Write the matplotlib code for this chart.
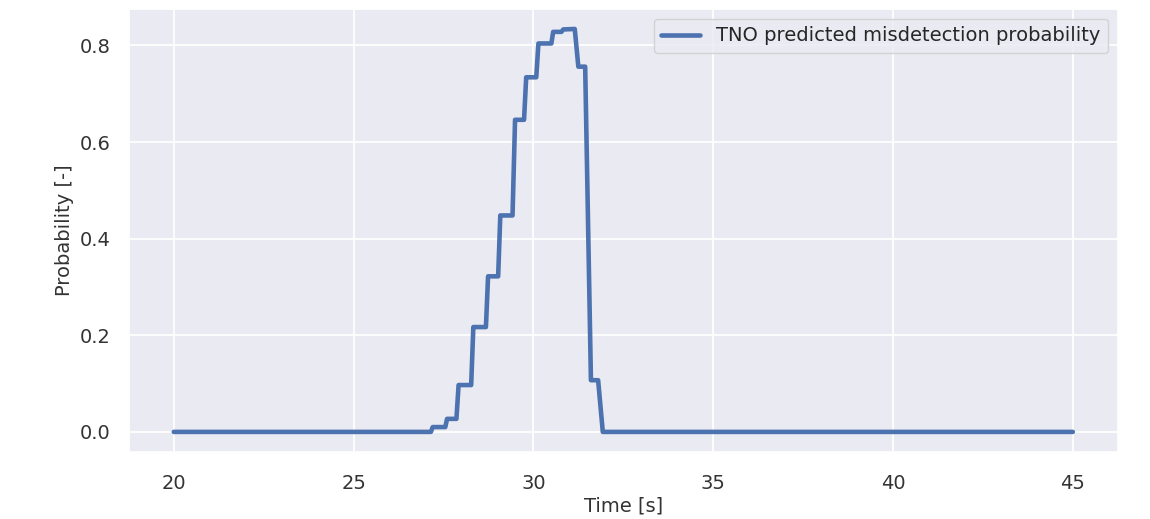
import numpy as np
import matplotlib
matplotlib.use('Agg')
import matplotlib.pyplot as plt
import seaborn as sns

# Valores (tiempo en s, probabilidad)
tiempo = [20.0, 27.15, 27.2, 27.55, 27.6, 27.86, 27.92, 28.27, 28.33, 28.68, 28.74,
          29.02, 29.08, 29.42, 29.49, 29.74, 29.8, 30.08, 30.14, 30.5, 30.55,
          30.78, 30.83, 31.15, 31.25, 31.44, 31.6, 31.8, 31.93, 45.0]
probabilidad = [0.0, 0.0, 0.01, 0.01, 0.027, 0.027, 0.097, 0.097, 0.217, 0.217, 0.322,
                0.322, 0.448, 0.448, 0.646, 0.646, 0.734, 0.734, 0.804, 0.804, 0.828,
                0.828, 0.833, 0.834, 0.756, 0.756, 0.107, 0.107, 0.0, 0.0]

etiqueta = 'TNO predicted misdetection probability'

sns.set_theme(style='darkgrid')

fig = plt.figure(figsize=(11.5, 5.19), dpi=100)
ax = fig.add_axes([0.112, 0.129, 0.86, 0.854])
ax.plot(tiempo, probabilidad, color='#4C72B0', lw=3.3, label=etiqueta)

ax.set_xlabel('Time [s]', fontsize=14, color='#333333', labelpad=2)
ax.set_ylabel('Probability [-]', fontsize=14, color='#333333', labelpad=4)
ax.set_xticks([20, 25, 30, 35, 40, 45])
ax.set_yticks([0.0, 0.2, 0.4, 0.6, 0.8])
ax.tick_params(labelsize=14, labelcolor='#333333')
ax.tick_params(axis='x', pad=10)
ax.tick_params(axis='y', pad=7)
ax.grid(lw=1.3)
ax.legend(loc='upper right', fontsize=14)

plt.savefig('out.png', dpi=100)
